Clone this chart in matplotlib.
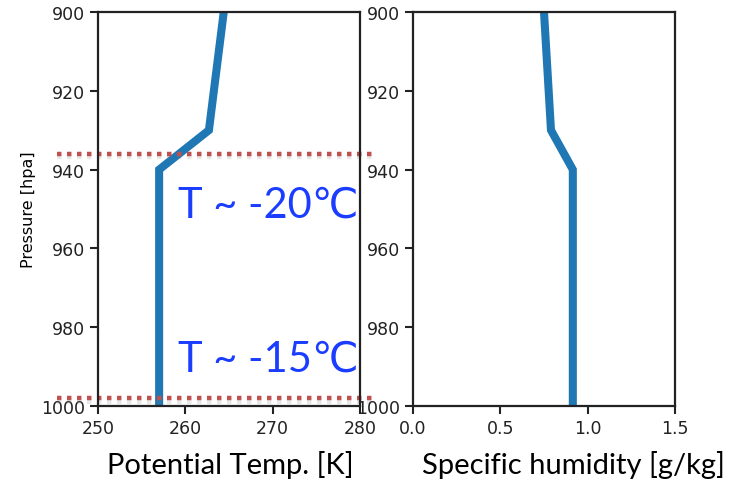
import matplotlib.pyplot as plt
import matplotlib.patheffects as pe

plt.rcParams['font.family'] = ['DejaVu Sans']

# profile data
pressure = [900, 930, 940, 1000]
theta = [264.4, 262.7, 257.0, 257.0]
humidity = [0.75, 0.79, 0.915, 0.915]
inversion_levels = [936, 998]
temp_notes = ["T ~ -20\u2103", "T ~ -15\u2103"]
temp_note_levels = [949, 988]

fig = plt.figure(figsize=(7.37, 4.81), dpi=100)
ax1 = fig.add_axes([98/737, 1 - 407/481, 262/737, 394/481])
ax2 = fig.add_axes([413/737, 1 - 407/481, 262/737, 394/481])

blue = "#1f77b4"
ax1.plot(theta, pressure, color=blue, lw=5.8, solid_joinstyle="miter")
ax2.plot(humidity, pressure, color=blue, lw=5.8, solid_joinstyle="miter")

ax1.set_xlim(250, 280)
ax1.set_xticks([250, 260, 270, 280])
ax2.set_xlim(0, 1.5)
ax2.set_xticks([0.0, 0.5, 1.0, 1.5])
for ax in (ax1, ax2):
    ax.set_ylim(1000, 900)
    ax.set_yticks([900, 920, 940, 960, 980, 1000])
    ax.tick_params(labelsize=12.5, width=1.5, length=6, colors="#222222", labelcolor="#222222")
    for s in ax.spines.values():
        s.set_linewidth(1.6)
        s.set_color("#222222")

ax1.set_ylabel("Pressure [hpa]", fontsize=11.5)
ax1.yaxis.set_label_coords(-0.235, 0.5)

# red dotted inversion lines, running a bit past the axes
for lev in inversion_levels:
    ax1.plot([-0.157, 1.045], [lev, lev], transform=ax1.get_yaxis_transform(),
             color="#c0504d", lw=3.2, ls=(0, (1, 1.25)), clip_on=False,
             path_effects=[pe.SimpleLineShadow(offset=(0, -2.5), shadow_color="gray", alpha=0.18),
                           pe.Normal()])

for note, lev in zip(temp_notes, temp_note_levels):
    ax1.text(0.995, lev, note, transform=ax1.get_yaxis_transform(), ha="right", va="center",
             fontsize=30, color="#1a3dff", family=["Lato", "DejaVu Sans"])

fig.text(230/737, 1 - 465/481, "Potential Temp. [K]", ha="center", va="center",
         fontsize=21, family=["Lato", "DejaVu Sans"])
fig.text(573/737, 1 - 465/481, "Specific humidity [g/kg]", ha="center", va="center",
         fontsize=21, family=["Lato", "DejaVu Sans"])

fig.savefig("out.png", dpi=100)
